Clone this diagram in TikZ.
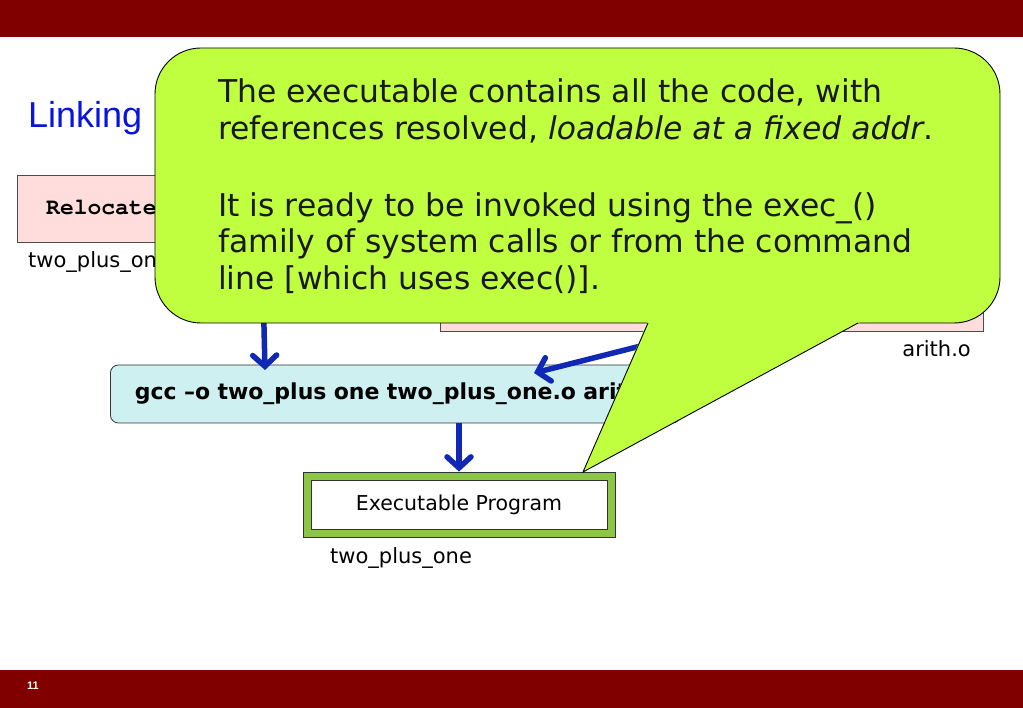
\documentclass[tikz,border=0pt]{standalone}
\usepackage{fontspec}
\setmainfont{DejaVu Sans}
\newfontfamily\arialfont{Liberation Sans}
\newfontfamily\courfont{TeX Gyre Cursor}
\usetikzlibrary{arrows.meta}
\definecolor{barred}{RGB}{128,0,0}
\definecolor{titleblue}{RGB}{10,20,220}
\definecolor{arrowblue}{RGB}{16,40,180}
\definecolor{calloutgreen}{RGB}{192,255,64}
\definecolor{pinkfill}{RGB}{255,221,221}
\definecolor{cyanfill}{RGB}{206,240,240}
\definecolor{exgreen}{RGB}{140,198,70}
\tikzset{
  x=1pt,y=-1pt,
  pinkbox/.style={draw=black!70,fill=pinkfill,line width=0.8pt},
  flowarrow/.style={draw=arrowblue,line width=5.5pt,-{Straight Barb[length=11pt,width=24pt,line cap=round]}},
  lbl/.style={font=\fontsize{21}{24}\selectfont,anchor=base west,inner sep=0pt},
  ctext/.style={font=\fontsize{31.4}{36}\selectfont,anchor=base west,inner sep=0pt,text=black!90},
}
\begin{document}
\begin{tikzpicture}
\useasboundingbox (0,0) rectangle (1023,708);
% bars
\fill[barred] (0,0) rectangle (1023,37);
\fill[barred] (0,670) rectangle (1023,708);
\node[font=\arialfont\bfseries\fontsize{11}{13}\selectfont,text=white,anchor=base west,inner sep=0pt] (pagenum) at (27,689) {11};
% title
\node[font=\arialfont\fontsize{36}{40}\selectfont,text=titleblue,anchor=base west,inner sep=0pt] (title) at (28,128) {Linking};
% left pink box
\path[pinkbox] (17,175) rectangle (505,242);
\coordinate (lbot) at (262,242);
\node[font=\courfont\bfseries\fontsize{23}{26}\selectfont,anchor=base west,inner sep=0pt] (reloc) at (46,215) {Relocate};
\node[lbl] (lbl1) at (28,268) {two\_plus\_one.o};
% right pink box
\path[pinkbox] (440,270) rectangle (983,331);
\coordinate (rbot) at (700,331);
\node[lbl,anchor=base east] (lbl2) at (971,357) {arith.o};
% gcc box
\node[draw=black!80,fill=cyanfill,rounded corners=8pt,line width=0.8pt,anchor=west,
  text width=545pt,align=left,inner xsep=12.5pt,minimum height=58pt,inner ysep=0pt,
  font=\bfseries\fontsize{22}{26}\selectfont] (gcc) at (110,394) {\mbox{\hspace*{12pt}gcc –o two\_plus one two\_plus\_one.o arith.o}};
% exec box
\node[draw=black!80,fill=exgreen,line width=0.8pt,minimum width=312pt,minimum height=65pt,inner sep=0pt] (execout) at (459,504.5) {};
\node[draw=black!80,fill=white,line width=0.8pt,minimum width=296pt,minimum height=49pt,inner sep=0pt,font=\fontsize{20.5}{24}\selectfont] (exec) at (459,504.5) {Executable Program};
\node[lbl] (lbl3) at (330,563) {two\_plus\_one};
% arrows
\draw[flowarrow] (lbot) -- (265,370);
\draw[flowarrow] (rbot) -- (534,373);
\draw[flowarrow] (gcc.south -| exec.north) -- (execout.north);
% callout
\draw[fill=calloutgreen,draw=black,line width=0.9pt,rounded corners=46pt] (155,48) rectangle (1000,323);
\fill[calloutgreen] (647.5,322) -- (860,322) -- (583,472) -- cycle;
\draw[black,line width=0.9pt,line join=miter] (648,323) -- (583,472) -- (858,323);
\node[ctext] (c1) at (218,103) {The executable contains all the code, with};
\node[ctext] (c2) at (218,140) {references resolved, \textit{loadable at a fixed addr}.};
\node[ctext] (c3) at (218,217) {It is ready to be invoked using the exec\_()};
\node[ctext] (c4) at (218,253) {family of system calls or from the command};
\node[ctext] (c5) at (218,290) {line [which uses exec()].};
\end{tikzpicture}
\end{document}
